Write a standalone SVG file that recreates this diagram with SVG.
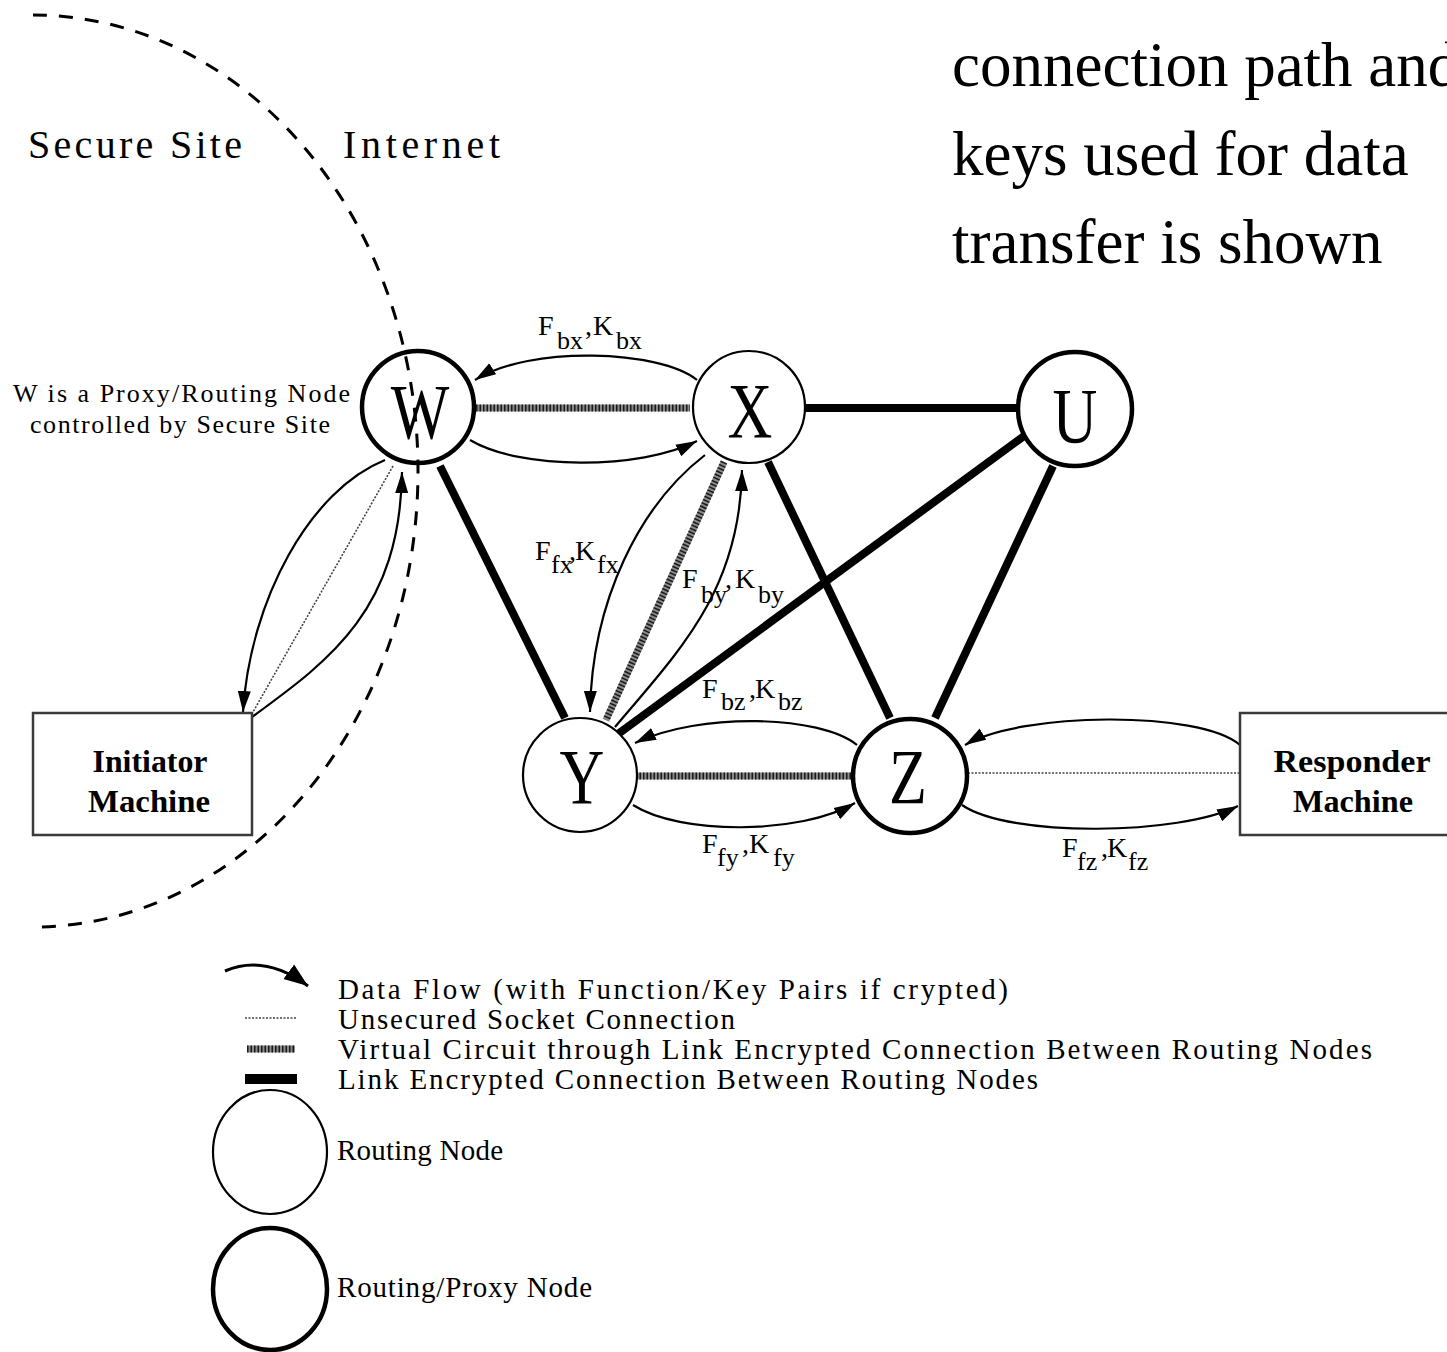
<svg xmlns="http://www.w3.org/2000/svg" width="1447" height="1352" viewBox="0 0 1447 1352">
<defs>
<style>
text{font-family:"Liberation Serif","Times New Roman",serif;fill:#000}
.thick{stroke:#000;stroke-width:8;fill:none}
.vcb{stroke:#8a8a8a;stroke-width:7;fill:none}
.vct{stroke:#1a1a1a;stroke-width:7;stroke-dasharray:1.5 2;fill:none}
.dot{stroke:#444;stroke-width:1.6;stroke-dasharray:2 1.5;fill:none}
.flow{stroke:#000;stroke-width:2.2;fill:none;marker-end:url(#ah)}
.node{fill:#fff;stroke:#000;stroke-width:2.2}
.proxy{fill:#fff;stroke:#000;stroke-width:4.5}
.nl{font-size:62px;text-anchor:middle}
.lbl{font-size:28px}
.sub{font-size:26px}
.box{fill:#fff;stroke:#3a3a3a;stroke-width:2.5}
.mach{font-size:31px;font-weight:bold;text-anchor:middle}
.leg{font-size:29px}
</style>
<marker id="ah" markerUnits="userSpaceOnUse" markerWidth="22" markerHeight="14" refX="21" refY="6.5" orient="auto" viewBox="0 0 22 13">
<path d="M0,0 L21,6.5 L0,13 z" fill="#000"/>
</marker>
<marker id="ahL" markerUnits="userSpaceOnUse" markerWidth="26" markerHeight="20" refX="24" refY="9" orient="auto" viewBox="0 0 26 18">
<path d="M0,0 L24,9 L0,18 z" fill="#000"/>
</marker>
</defs>

<!-- top right caption -->
<g id="caption" font-size="63">
<text x="952" y="86" font-size="63">connection path and</text>
<text x="952" y="175" font-size="63">keys used for data</text>
<text x="952" y="263" font-size="63">transfer is shown</text>
</g>

<g id="connectors">
<!-- link encrypted connections -->
<line class="thick" x1="805" y1="408" x2="1020" y2="408"/>
<line class="thick" x1="440" y1="466" x2="565" y2="718"/>
<line class="thick" x1="768" y1="462" x2="890" y2="718"/>
<line class="thick" x1="1024" y1="436" x2="618" y2="734"/>
<line class="thick" x1="1053" y1="466" x2="935" y2="718"/>
<!-- virtual circuits -->
<line class="vcb" x1="476" y1="408" x2="690" y2="408"/>
<line class="vct" x1="476" y1="408" x2="690" y2="408"/>
<line class="vcb" x1="636" y1="776" x2="854" y2="776"/>
<line class="vct" x1="636" y1="776" x2="854" y2="776"/>
<line class="vcb" x1="724" y1="462" x2="606" y2="720"/>
<line class="vct" x1="724" y1="462" x2="606" y2="720"/>
<!-- unsecured sockets -->
<line class="dot" x1="393" y1="466" x2="253" y2="712"/>
<line class="dot" x1="968" y1="773" x2="1240" y2="773"/>
<!-- data flows -->
<path class="flow" d="M697,380 C660,350 530,345 475,380"/>
<path class="flow" d="M470,440 C520,470 640,470 697,441"/>
<path class="flow" d="M705,455 C640,505 592,600 590,712"/>
<path class="flow" d="M615,727 C680,650 740,590 742,470"/>
<path class="flow" d="M857,745 C820,715 700,712 635,743"/>
<path class="flow" d="M633,805 C680,835 800,835 855,803"/>
<path class="flow" d="M1240,745 C1200,710 1020,712 965,745"/>
<path class="flow" d="M962,805 C1010,838 1180,835 1238,806"/>
<path class="flow" d="M385,460 C310,490 250,600 243,712"/>
<path class="flow" d="M252,717 C330,660 400,610 402,472"/>
</g>

<g id="node-W"><circle class="proxy" cx="418" cy="407" r="56"/><text class="nl" transform="translate(420,438) scale(1,1.25)">W</text></g>
<g id="node-X"><circle class="node" cx="749" cy="407" r="56"/><text class="nl" transform="translate(750,437) scale(1,1.25)">X</text></g>
<g id="node-U"><circle class="proxy" cx="1075" cy="409" r="57"/><text class="nl" transform="translate(1075,442) scale(1,1.25)">U</text></g>
<g id="node-Y"><circle class="node" cx="580" cy="775" r="57"/><text class="nl" transform="translate(582,803) scale(1,1.25)">Y</text></g>
<g id="node-Z"><circle class="proxy" cx="910" cy="776" r="57"/><text class="nl" transform="translate(908,803) scale(1,1.25)">Z</text></g>

<g id="node-initiator">
<rect class="box" x="33" y="713" width="219" height="122"/>
<text class="mach" x="150" y="772" textLength="115" lengthAdjust="spacingAndGlyphs">Initiator</text>
<text class="mach" x="149" y="812" textLength="122" lengthAdjust="spacingAndGlyphs">Machine</text>
</g>
<g id="node-responder">
<rect class="box" x="1240" y="713" width="222" height="122"/>
<text class="mach" x="1352" y="772" textLength="157" lengthAdjust="spacingAndGlyphs">Responder</text>
<text class="mach" x="1353" y="812" textLength="120" lengthAdjust="spacingAndGlyphs">Machine</text>
</g>

<!-- security boundary -->
<g id="boundary">
<path d="M33,15 A385,456 0 0 1 33,927" fill="none" stroke="#000" stroke-width="3" stroke-dasharray="14 12"/>
<text x="28" y="158" font-size="40" textLength="214" lengthAdjust="spacing">Secure Site</text>
<text x="343" y="158" font-size="40" textLength="157" lengthAdjust="spacing">Internet</text>
</g>

<g id="note-W">
<text x="13" y="402" font-size="26" textLength="337" lengthAdjust="spacing">W is a Proxy/Routing Node</text>
<text x="30" y="433" font-size="26" textLength="300" lengthAdjust="spacing">controlled by Secure Site</text>
</g>

<g id="flow-labels">
<text class="lbl"><tspan x="538" y="335">F</tspan><tspan class="sub" x="557" y="349">bx</tspan><tspan x="585" y="335">,</tspan><tspan x="593" y="335">K</tspan><tspan class="sub" x="616" y="349">bx</tspan></text>
<text class="lbl"><tspan x="535" y="560">F</tspan><tspan class="sub" x="551" y="573">fx</tspan><tspan x="569" y="560">,</tspan><tspan x="575" y="560">K</tspan><tspan class="sub" x="597" y="573">fx</tspan></text>
<text class="lbl"><tspan x="682" y="588">F</tspan><tspan class="sub" x="701" y="603">by</tspan><tspan x="725" y="588">,</tspan><tspan x="735" y="588">K</tspan><tspan class="sub" x="758" y="603">by</tspan></text>
<text class="lbl"><tspan x="702" y="698">F</tspan><tspan class="sub" x="721" y="710">bz</tspan><tspan x="749" y="698">,</tspan><tspan x="755" y="698">K</tspan><tspan class="sub" x="778" y="710">bz</tspan></text>
<text class="lbl"><tspan x="702" y="853">F</tspan><tspan class="sub" x="717" y="866">fy</tspan><tspan x="742" y="853">,</tspan><tspan x="749" y="853">K</tspan><tspan class="sub" x="773" y="866">fy</tspan></text>
<text class="lbl"><tspan x="1062" y="857">F</tspan><tspan class="sub" x="1077" y="870">fz</tspan><tspan x="1101" y="857">,</tspan><tspan x="1107" y="857">K</tspan><tspan class="sub" x="1128" y="870">fz</tspan></text>
</g>

<g id="legend">
<path d="M225,971 Q265,954 308,986" fill="none" stroke="#000" stroke-width="3" marker-end="url(#ahL)"/>
<line class="dot" x1="245" y1="1018" x2="297" y2="1018"/>
<line class="vcb" x1="247" y1="1049" x2="295" y2="1049" stroke-width="6"/>
<line class="vct" x1="247" y1="1049" x2="295" y2="1049" stroke-width="6"/>
<rect x="245" y="1074" width="52" height="10" fill="#000"/>
<text class="leg" x="338" y="999" textLength="670" lengthAdjust="spacing">Data Flow (with Function/Key Pairs if crypted)</text>
<text class="leg" x="338" y="1029" textLength="397" lengthAdjust="spacing">Unsecured Socket Connection</text>
<text class="leg" x="338" y="1059" textLength="1034" lengthAdjust="spacing">Virtual Circuit through Link Encrypted Connection Between Routing Nodes</text>
<text class="leg" x="338" y="1089" textLength="700" lengthAdjust="spacing">Link Encrypted Connection Between Routing Nodes</text>
<ellipse cx="270" cy="1152" rx="57" ry="62" fill="none" stroke="#000" stroke-width="2.2"/>
<text class="leg" x="337" y="1160" textLength="166" lengthAdjust="spacing">Routing Node</text>
<ellipse cx="270" cy="1289" rx="57" ry="61" fill="none" stroke="#000" stroke-width="4.5"/>
<text class="leg" x="337" y="1297" textLength="255" lengthAdjust="spacing">Routing/Proxy Node</text>
</g>
</svg>
